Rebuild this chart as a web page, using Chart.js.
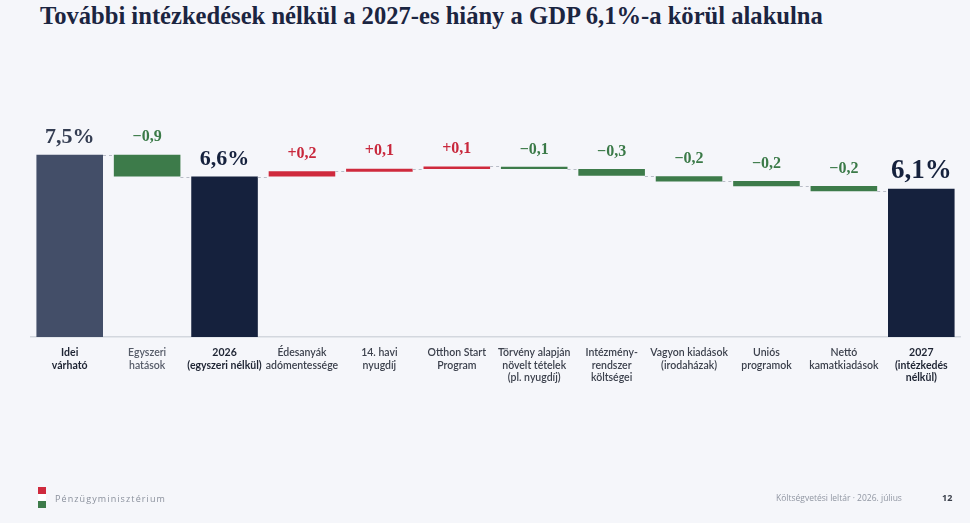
<!DOCTYPE html>
<html>
<head>
<meta charset="utf-8">
<script src="https://cdn.jsdelivr.net/npm/chart.js@4/dist/chart.umd.min.js"></script>
<style>
  html, body { margin: 0; padding: 0; background: #f5f6fa; }
  body { width: 970px; height: 523px; position: relative; overflow: hidden; }
  #title { position: absolute; left: 40px; top: 2px; font: bold 24.6px "Liberation Serif", serif; color: #1b2541; white-space: nowrap; }
  #wrap { position: absolute; left: 0; top: 0; width: 970px; height: 523px; }
  .flag { position: absolute; left: 38px; width: 8px; height: 7px; }
  #ministry { position: absolute; left: 55px; top: 492px; font: 9px "Open Sans", sans-serif; letter-spacing: 1.1px; color: #8a909c; }
  #doc { position: absolute; left: 776px; top: 492px; font: 8.5px "Open Sans", sans-serif; color: #9096a2; }
  #page { position: absolute; left: 942px; top: 491px; font: bold 9px "Open Sans", sans-serif; color: #3a3f4a; }
</style>
</head>
<body>
<div id="title">További intézkedések nélkül a 2027-es hiány a GDP 6,1%-a körül alakulna</div>
<div id="wrap"><canvas id="c"></canvas></div>
<div class="flag" style="top:487px;background:#cf2a3d"></div>
<div class="flag" style="top:494px;background:#ffffff"></div>
<div class="flag" style="top:501px;background:#3d7b4a"></div>
<div id="ministry">Pénzügyminisztérium</div>
<div id="doc">Költségvetési leltár · 2026. július</div>
<div id="page">12</div>
<script>
// categories
var categories = [
  ['Idei', 'várható'],
  ['Egyszeri', 'hatások'],
  ['2026', '(egyszeri nélkül)'],
  ['Édesanyák', 'adómentessége'],
  ['14. havi', 'nyugdíj'],
  ['Otthon Start', 'Program'],
  ['Törvény alapján', 'növelt tételek', '(pl. nyugdíj)'],
  ['Intézmény-', 'rendszer', 'költségei'],
  ['Vagyon kiadások', '(irodaházak)'],
  ['Uniós', 'programok'],
  ['Nettó', 'kamatkiadások'],
  ['2027', '(intézkedés', 'nélkül)']
];
// floating bar start / end (% of GDP), end = level after the step
var barStart = [0, 7.5, 0, 6.6, 6.8, 6.91, 7.0, 6.91, 6.61, 6.42, 6.21, 0];
var barEnd   = [7.5, 6.6, 6.6, 6.82, 6.92, 7.02, 6.91, 6.63, 6.4, 6.2, 6.0, 6.1];
var valueLabels = ['7,5%', '\u22120,9', '6,6%', '+0,2', '+0,1', '+0,1', '\u22120,1', '\u22120,3', '\u22120,2', '\u22120,2', '\u22120,2', '6,1%'];
var barKind = ['first', 'down', 'total', 'up', 'up', 'up', 'down', 'down', 'down', 'down', 'down', 'total'];

var kindColor = { first: '#434e68', total: '#15213d', up: '#cf2a3d', down: '#3d7b4a' };
var labelColor = { first: '#343d52', total: '#15213d', up: '#c8283c', down: '#3b7a48' };

var data = barStart.map(function (s, i) { return [s, barEnd[i]]; });

var waterfallDeco = {
  id: 'waterfallDeco',
  afterDatasetsDraw: function (chart) {
    var ctx = chart.ctx, y = chart.scales.y;
    var bars = chart.getDatasetMeta(0).data;
    ctx.save();
    // dashed connectors
    ctx.strokeStyle = '#b9bdc7';
    ctx.lineWidth = 1;
    ctx.setLineDash([3, 3]);
    for (var i = 0; i < bars.length - 1; i++) {
      var py = Math.round(y.getPixelForValue(barEnd[i])) + 0.5;
      ctx.beginPath();
      ctx.moveTo(bars[i].x + bars[i].width / 2, py);
      ctx.lineTo(bars[i + 1].x - bars[i + 1].width / 2, py);
      ctx.stroke();
    }
    ctx.setLineDash([]);
    // value labels
    ctx.textAlign = 'center';
    ctx.textBaseline = 'middle';
    bars.forEach(function (b, i) {
      var top = y.getPixelForValue(Math.max(barStart[i], barEnd[i]));
      var k = barKind[i];
      var size = k === 'first' || k === 'total' ? (i === bars.length - 1 ? 27 : 22) : 16;
      ctx.font = 'bold ' + size + 'px "Liberation Serif", serif';
      ctx.fillStyle = labelColor[k];
      ctx.fillText(valueLabels[i], b.x, top - 17.5);
    });
    ctx.restore();
  }
};

new Chart(document.getElementById('c'), {
  type: 'bar',
  data: {
    labels: categories,
    datasets: [{
      data: data,
      backgroundColor: barKind.map(function (k) { return kindColor[k]; }),
      borderWidth: 0,
      borderSkipped: false,
      barPercentage: 0.86,
      categoryPercentage: 1
    }]
  },
  options: {
    responsive: true,
    maintainAspectRatio: false,
    animation: false,
    layout: { padding: { top: 40, left: 31, right: 10, bottom: 113 } },
    plugins: { legend: { display: false }, tooltip: { enabled: false } },
    scales: {
      x: {
        grid: { display: false, drawTicks: false },
        border: { display: true, color: '#d3d7de', width: 1.5 },
        afterFit: function (s) { s.height = 73; },
        ticks: {
          padding: 10,
          maxRotation: 0,
          autoSkip: false,
          color: function (c) {
            var k = barKind[c.index];
            if (k === 'first' || k === 'total') return '#1e2433';
            return c.index === 1 ? '#555b68' : '#3c414d';
          },
          font: function (c) {
            var k = barKind[c.index];
            return {
              family: 'Lato, sans-serif',
              size: 10.5,
              weight: (k === 'first' || k === 'total') ? 'bold' : '600',
              lineHeight: 1.15
            };
          }
        }
      },
      y: { display: false, min: 0, max: 12.22 }
    }
  },
  plugins: [waterfallDeco]
});
</script>
</body>
</html>
